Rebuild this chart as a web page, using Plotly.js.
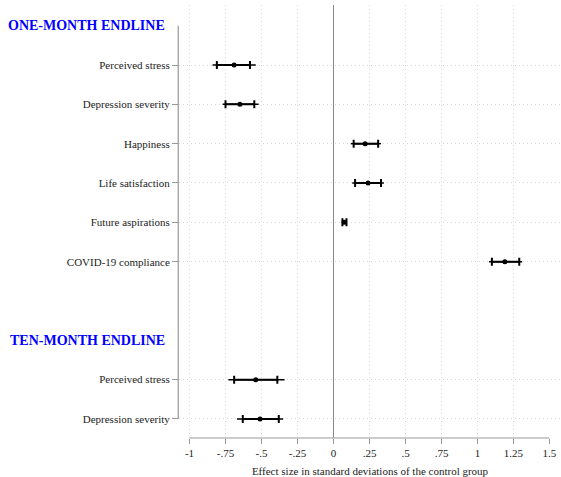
<!DOCTYPE html>
<html>
<head>
<meta charset="utf-8">
<script src="https://cdn.plot.ly/plotly-3.0.1.min.js"></script>
<style>html,body{margin:0;padding:0;background:#fff;}#chart{width:561px;height:477px;}</style>
</head>
<body>
<div id="chart"></div>
<script>
// ---- data ----
const headers = ["ONE-MONTH ENDLINE", "TEN-MONTH ENDLINE"];
const headerPos = [0, 8];
const labels = ["Perceived stress", "Depression severity", "Happiness", "Life satisfaction",
                "Future aspirations", "COVID-19 compliance", "Perceived stress", "Depression severity"];
const rowPos = [1, 2, 3, 4, 5, 6, 9, 10];
const estimate = [-0.69, -0.65, 0.22, 0.24, 0.075, 1.19, -0.54, -0.51];
const ciLow    = [-0.81, -0.75, 0.14, 0.15, 0.062, 1.10, -0.69, -0.63];
const ciHigh   = [-0.58, -0.55, 0.31, 0.33, 0.090, 1.29, -0.39, -0.38];
const outerLow = [-0.84, -0.77, 0.12, 0.13, 0.058, 1.08, -0.73, -0.67];
const outerHigh= [-0.54, -0.52, 0.33, 0.35, 0.094, 1.31, -0.34, -0.35];
const xTickVals = [-1, -0.75, -0.5, -0.25, 0, 0.25, 0.5, 0.75, 1, 1.25, 1.5];
const xTickText = ["-1", "-.75", "-.5", "-.25", "0", ".25", ".5", ".75", "1", "1.25", "1.5"];
const xTitle = "Effect size in standard deviations of the control group";

const serif = "Liberation Serif";

const outerTrace = {
  type: "scatter", mode: "markers", x: estimate, y: rowPos,
  marker: {size: 1, color: "rgba(0,0,0,0)"},
  error_x: {type: "data", symmetric: false,
    array: outerHigh.map((h, i) => h - estimate[i]),
    arrayminus: outerLow.map((l, i) => estimate[i] - l),
    color: "#000", thickness: 1.5, width: 0},
  hoverinfo: "skip", showlegend: false
};
const ciTrace = {
  type: "scatter", mode: "markers", x: estimate, y: rowPos,
  marker: {size: 5, color: "#000"},
  error_x: {type: "data", symmetric: false,
    array: ciHigh.map((h, i) => h - estimate[i]),
    arrayminus: ciLow.map((l, i) => estimate[i] - l),
    color: "#000", thickness: 2, width: 4},
  showlegend: false
};

const xMin = xTickVals[0], xMax = xTickVals[xTickVals.length - 1];
const shapes = [];
xTickVals.forEach(v => {
  if (v !== 0 && v !== xMax) {
    shapes.push({type: "line", layer: "below", xref: "x", yref: "paper", x0: v, x1: v, y0: 0, y1: 1,
      line: {color: "#d8d8d8", width: 1, dash: "1px,3px"}});
  }
});
// x axis line over the tick range
shapes.push({type: "line", xref: "x", yref: "paper", x0: xMin, x1: xMax, y0: 0, y1: 0,
  line: {color: "#999", width: 1}});
// y axis line
shapes.push({type: "line", xref: "paper", yref: "y", x0: -0.002, x1: -0.002, y0: headerPos[0], y1: rowPos[rowPos.length - 1],
  line: {color: "#999", width: 1.2}});

const annotations = headers.map((h, i) => ({
  text: "<b>" + h + "</b>", xref: "paper", yref: "y", x: -0.031, y: headerPos[i],
  xanchor: "right", yanchor: "middle", showarrow: false,
  font: {family: serif, size: 14, color: "#0000ff"}
}));

const layout = {
  width: 561, height: 477,
  margin: {l: 179, r: 0, t: 5, b: 39, pad: 0},
  paper_bgcolor: "#fff", plot_bgcolor: "#fff",
  showlegend: false,
  font: {family: serif},
  xaxis: {
    range: [-1.0729, 1.5799], tickmode: "array", tickvals: xTickVals, ticktext: xTickText,
    showgrid: false, zeroline: true, zerolinecolor: "#888", zerolinewidth: 1.5,
    showline: false, ticks: "outside", ticklen: 5, tickcolor: "#999", tickwidth: 1,
    tickfont: {family: serif, size: 11, color: "#222"},
    title: {text: xTitle, font: {family: serif, size: 11, color: "#222"}, standoff: 9},
    automargin: false, fixedrange: true
  },
  yaxis: {
    range: [10.484, -0.5256], tickmode: "array", tickvals: rowPos, ticktext: labels,
    showgrid: true, gridcolor: "#d8d8d8", griddash: "1px,3px", gridwidth: 1,
    zeroline: false, showline: false, ticks: "outside", ticklen: 6, tickcolor: "#999", tickwidth: 1,
    tickfont: {family: serif, size: 11, color: "#222"},
    automargin: false, fixedrange: true
  },
  shapes: shapes,
  annotations: annotations
};

Plotly.newPlot("chart", [outerTrace, ciTrace], layout, {displayModeBar: false, staticPlot: true});
</script>
</body>
</html>
